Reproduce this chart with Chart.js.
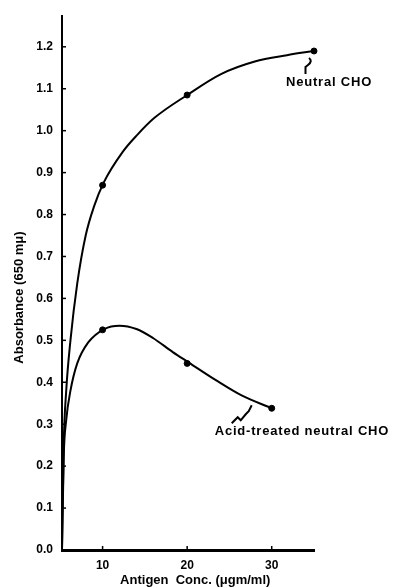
<!DOCTYPE html>
<html>
<head>
<meta charset="utf-8">
<script src="https://cdn.jsdelivr.net/npm/chart.js"></script>
<style>
  html, body { margin: 0; padding: 0; background: #fff; }
</style>
</head>
<body>
<canvas id="absGraph" width="396" height="588"></canvas>
<script>
// 目盛り
const xTicks = [10, 20, 30];
const yTicks = [0, 0.1, 0.2, 0.3, 0.4, 0.5, 0.6, 0.7, 0.8, 0.9, 1.0, 1.1, 1.2];

// 測定点
const neutralX = [10, 20, 35];
const neutralY = [0.87, 1.085, 1.19];
const acidX = [10, 20, 30];
const acidY = [0.525, 0.445, 0.338];

// 手描きの曲線
const neutralCurveX = [5.2, 5.4, 5.7, 6.2, 7.0, 8.0, 9.0, 10.1, 12.4, 14.1, 16.1, 20, 24, 28, 31.8, 35];
const neutralCurveY = [0.0, 0.25, 0.38, 0.50, 0.635, 0.75, 0.82, 0.875, 0.95, 0.99, 1.03, 1.085, 1.135, 1.165, 1.18, 1.19];
const acidCurveX = [5.2, 5.4, 5.7, 6.2, 7.0, 8.3, 10.2, 12, 14, 16, 18.3, 20.2, 23.4, 26.5, 30];
const acidCurveY = [0.0, 0.22, 0.31, 0.38, 0.445, 0.495, 0.527, 0.535, 0.527, 0.505, 0.472, 0.447, 0.405, 0.368, 0.338];

const xy = (xs, ys) => xs.map((v, i) => ({ x: v, y: ys[i] }));
const FONT = '"Liberation Sans", Arial, sans-serif';

// 内向きの目盛りと注記
const extras = {
    id: 'extras',
    afterDatasetsDraw(chart) {
        const { ctx, scales: { x, y }, chartArea: a } = chart;
        ctx.save();
        ctx.strokeStyle = '#000';
        ctx.lineWidth = 1.5;
        yTicks.forEach(v => {
            const py = y.getPixelForValue(v);
            ctx.beginPath(); ctx.moveTo(a.left, py); ctx.lineTo(a.left + 4, py); ctx.stroke();
        });
        xTicks.forEach(v => {
            const px = x.getPixelForValue(v);
            ctx.beginPath(); ctx.moveTo(px, a.bottom); ctx.lineTo(px, a.bottom - 4); ctx.stroke();
        });

        ctx.fillStyle = '#000';
        ctx.font = 'bold 13px ' + FONT;
        ctx.letterSpacing = '0.8px';
        ctx.textBaseline = 'middle';
        ctx.textAlign = 'left';

        const nx = x.getPixelForValue(neutralX[2]), ny = y.getPixelForValue(neutralY[2]);
        ctx.fillText('Neutral CHO', nx - 28, ny + 31);
        ctx.lineWidth = 2;
        ctx.beginPath();
        ctx.moveTo(nx - 5, ny + 7);
        ctx.quadraticCurveTo(nx - 1, ny + 10, nx - 6, ny + 14);
        ctx.lineTo(nx - 8.5, ny + 16);
        ctx.lineTo(nx - 8.5, ny + 23);
        ctx.stroke();

        const ax = x.getPixelForValue(acidX[2]), ay = y.getPixelForValue(acidY[2]);
        ctx.fillText('Acid-treated neutral CHO', ax - 57, ay + 23);
        ctx.beginPath();
        ctx.moveTo(ax - 40, ay + 15);
        ctx.lineTo(ax - 34, ay + 9);
        ctx.lineTo(ax - 31, ay + 12);
        ctx.lineTo(ax - 26, ay + 6);
        ctx.lineTo(ax - 23, ay + 3);
        ctx.lineTo(ax - 20, ay - 3);
        ctx.stroke();
        ctx.restore();
    }
};

const ctx = document.getElementById('absGraph').getContext('2d');
new Chart(ctx, {
    type: 'scatter',
    data: {
        datasets: [
            {
                type: 'line',
                data: xy(neutralCurveX, neutralCurveY),
                borderColor: '#000',
                borderWidth: 2,
                pointRadius: 0,
                cubicInterpolationMode: 'monotone',
                fill: false
            },
            {
                type: 'line',
                data: xy(acidCurveX, acidCurveY),
                borderColor: '#000',
                borderWidth: 2,
                pointRadius: 0,
                cubicInterpolationMode: 'monotone',
                fill: false
            },
            {
                data: xy(neutralX, neutralY),
                pointRadius: 3,
                pointBackgroundColor: '#000',
                pointBorderColor: '#000'
            },
            {
                data: xy(acidX, acidY),
                pointRadius: 3,
                pointBackgroundColor: '#000',
                pointBorderColor: '#000'
            }
        ]
    },
    options: {
        responsive: false,
        animation: false,
        clip: false,
        layout: { padding: { top: 10, right: 82, left: 0, bottom: 0 } },
        plugins: {
            legend: { display: false },
            tooltip: { enabled: false }
        },
        scales: {
            x: {
                type: 'linear',
                min: 5.2,
                max: 35,
                afterFit: s => { s.height = 38; },
                afterBuildTicks: s => { s.ticks = xTicks.map(v => ({ value: v })); },
                border: { color: '#000', width: 3 },
                grid: { display: false, drawTicks: false },
                ticks: {
                    padding: 8,
                    color: '#000',
                    font: { family: FONT, size: 12, weight: 'bold' }
                },
                title: {
                    display: true,
                    text: '    Antigen  Conc. (\u03bcgm/ml)',
                    color: '#000',
                    padding: { top: 0, bottom: 0 },
                    font: { family: FONT, size: 13, weight: 'bold', lineHeight: 1.2 }
                }
            },
            y: {
                min: 0,
                max: 1.273,
                afterFit: s => { s.width = 62; },
                afterBuildTicks: s => { s.ticks = yTicks.map(v => ({ value: v })); },
                border: { color: '#000', width: 2 },
                grid: { display: false, drawTicks: false },
                ticks: {
                    padding: 9,
                    color: '#000',
                    font: { family: FONT, size: 12, weight: 'bold' },
                    callback: v => v.toFixed(1)
                },
                title: {
                    display: true,
                    text: 'Absorbance (650 m\u03bc)        ',
                    color: '#000',
                    padding: { top: 12, bottom: 0 },
                    font: { family: FONT, size: 13, weight: 'bold', lineHeight: 1.2 }
                }
            }
        }
    },
    plugins: [extras]
});
</script>
</body>
</html>
